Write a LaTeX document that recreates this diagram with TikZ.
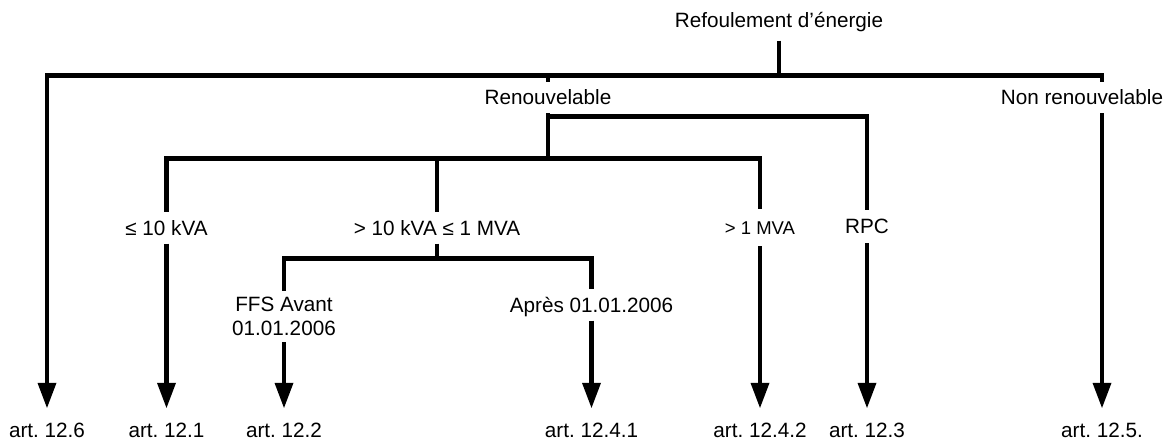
\documentclass[tikz,border=0pt]{standalone}
\usepackage{fontspec}
\setmainfont{Liberation Sans}
\usetikzlibrary{arrows.meta}
\frenchspacing

\tikzset{
  lbl/.style={font=\fontsize{20.7}{24.7}\selectfont, text height=14.8pt, text depth=0pt,
    inner xsep=0pt, inner ysep=8pt},
  lbltwo/.style={font=\fontsize{20.7}{24.7}\selectfont, align=center,
    inner xsep=0pt, inner ysep=6pt},
  artlbl/.style={lbl, inner ysep=15pt},
  branch/.style={line width=4.5pt},
  flow/.style={branch, -{Triangle[length=25pt,width=19pt,line width=0pt]}},
}

\begin{document}
\begin{tikzpicture}[x=1pt,y=-1pt]
\useasboundingbox (0,0) rectangle (1169,441);

% Niveaux
\node[lbl, inner ysep=13pt] (root) at (779,20) {Refoulement d’énergie};
\node[lbl] (ren) at (548,97.5) {Renouvelable};
\node[lbl] (nr) at (1082,97.5) {Non renouvelable};
\node[lbl] (le10) at (166.5,228) {≤ 10 kVA};
\node[lbl] (mid) at (437,228) {> 10 kVA ≤ 1 MVA};
\node[lbl, font=\fontsize{18.5}{22}\selectfont, text height=13.2pt, inner ysep=12pt] (gt1) at (760,227.5) {> 1 MVA};
\node[lbl, inner ysep=9pt] (rpc) at (867,226.5) {RPC};
\node[lbltwo] (ffs) at (284,316.5) {FFS Avant\\01.01.2006};
\node[lbl] (apres) at (591.5,305) {Après 01.01.2006};

% Articles
\node[artlbl] (a126) at (47,430.5) {art. 12.6};
\node[artlbl] (a121) at (166.5,430.5) {art. 12.1};
\node[artlbl] (a122) at (284,430.5) {art. 12.2};
\node[artlbl] (a1241) at (591.5,430.5) {art. 12.4.1};
\node[artlbl] (a1242) at (760,430.5) {art. 12.4.2};
\node[artlbl] (a123) at (867,430.5) {art. 12.3};
\node[artlbl] (a125) at (1102,430.5) {art. 12.5.};

\coordinate (top) at (779,75.5);
\coordinate (rb) at (548,116.7);
\coordinate (lv2) at (548,158.3);
\coordinate (lv3) at (437,258.5);

% Branches
\draw[branch] (root) -- (top);
\draw[flow] (top) -| (a126);
\draw[branch] (top) -| (a125 |- nr.north);
\draw[flow] (a125 |- nr.south) -- (a125);

\draw[branch] (ren) -- (ren |- top);
\draw[branch] (ren) -- (lv2);
\draw[branch] (rb) -| (rpc);
\draw[branch] (lv2) -| (le10);
\draw[branch] (lv2) -| (gt1);
\draw[branch] (mid |- lv2) -- (mid);

\draw[branch] (mid) -- (lv3);
\draw[branch] (lv3) -| (ffs);
\draw[branch] (lv3) -| (apres);

\draw[flow] (le10) -- (a121);
\draw[flow] (ffs) -- (a122);
\draw[flow] (apres) -- (a1241);
\draw[flow] (gt1) -- (a1242);
\draw[flow] (rpc) -- (a123);

\end{tikzpicture}
\end{document}
